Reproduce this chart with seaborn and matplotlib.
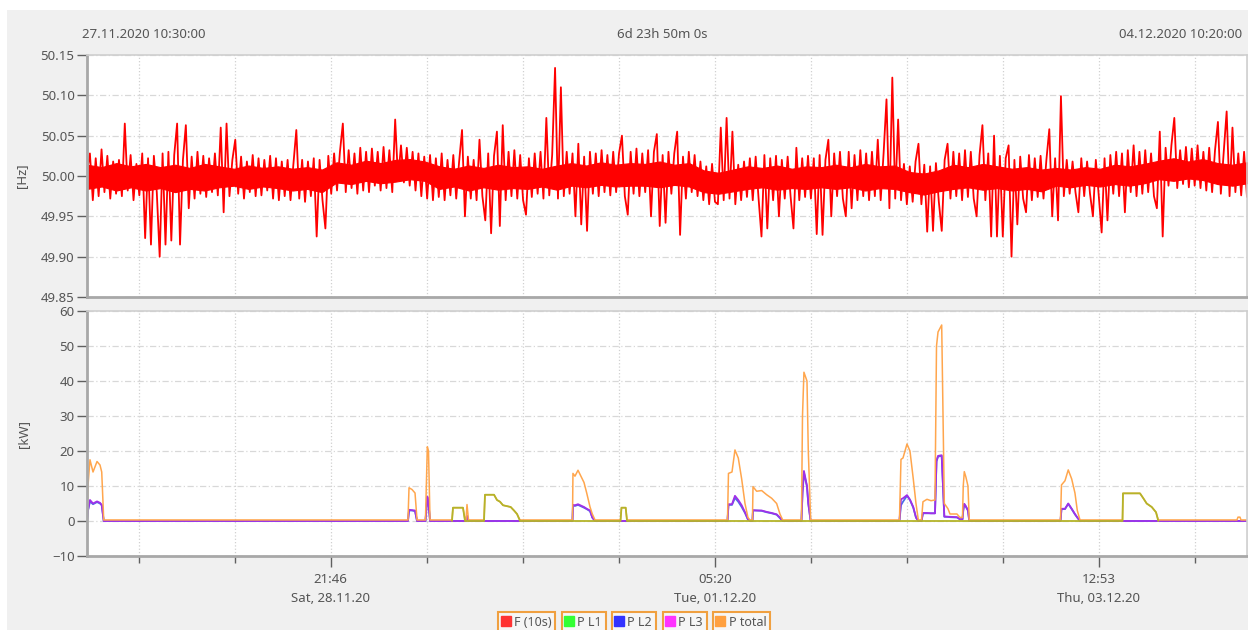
import numpy as np
import pandas as pd
import seaborn as sns
import matplotlib.pyplot as plt
import matplotlib.dates as mdates
from matplotlib.lines import Line2D
from matplotlib.patches import Rectangle
from matplotlib.ticker import FixedLocator, FixedFormatter, NullFormatter

### data
start = pd.Timestamp("2020-11-27 10:30:00")
end = pd.Timestamp("2020-12-04 10:20:00")

# frequency deviation from 50 Hz in mHz left to right
freq_dev = [
    5, 28, -30, 22, -25, 33, -20, 25, -28, 18,
    -22, 20, -25, 65, -18, 26, -30, 15, -24, 28,
    -77, 22, -85, 25, -20, -100, 28, -85, 30, -80,
    26, 65, -85, 20, 63, -40, 24, -28, 30, -22,
    25, -26, 22, -20, 28, -24, 60, -45, 65, -25,
    20, 45, -22, 24, -28, 18, -20, 26, -25, 22,
    -24, 20, -18, 25, -28, 22, -30, 18, -25, 20,
    -30, 15, 57, -28, 20, -32, 18, -25, 22, -75,
    20, -30, -65, 25, -22, 28, -18, 30, 65, -20,
    32, -15, 28, -22, 35, -18, 30, -20, 34, -12,
    30, -18, 36, -15, 32, -20, 70, -5, 38, -8,
    35, -12, 30, -18, 28, -25, 24, -28, 26, -30,
    22, -26, 28, -30, 20, -24, 26, -28, 18, 57,
    -50, 24, -28, 20, -30, 45, -25, -55, 28, -71,
    25, 55, -62, 63, -30, 30, -25, 32, -28, 26,
    -30, -48, 22, -26, 28, -22, 30, -28, 72, -24,
    26, 134, -28, 110, -25, 30, -22, 28, -50, 40,
    -60, 24, -68, 30, -22, 28, -25, 32, -20, 26,
    -24, 30, -20, 28, 50, -25, -48, 30, -22, 34,
    -25, 28, -20, 32, -50, 30, 52, -62, 26, -58,
    30, -22, 28, 55, -73, 24, -28, 30, -20, 26,
    -25, 18, -30, 12, -35, 15, -32, -35, 60, -30,
    72, -28, 55, -35, 14, -30, 18, -26, 22, -30,
    24, -28, -75, 26, -65, 22, -30, 25, -50, 20,
    -28, 24, -25, -65, 35, -30, 22, -26, 25, -28,
    22, -72, 26, -73, 20, 45, -50, 28, -25, 30,
    -28, -50, 30, -40, 26, -30, 32, -25, 28, -30,
    30, -25, 45, -30, 28, 95, -40, 122, -28, 70,
    -30, 15, -35, 12, -32, 18, 40, -35, 14, -69,
    12, -68, 16, -32, -68, 20, 40, -28, 30, -25,
    28, -30, 32, -26, 30, -28, -50, 26, 63, -30,
    28, -75, 50, -75, 25, -75, 22, 38, -100, 20,
    -60, 24, -28, -45, 26, -30, 22, -26, 25, -28,
    20, 58, -50, 22, -55, 99, -25, 20, -22, 18,
    -20, -45, 22, -25, 18, -22, -50, 20, -24, -70,
    22, -55, 26, -22, 30, -25, 28, -45, 32, -20,
    38, -25, 30, -22, 32, -20, 28, -25, -40, 55,
    -75, 35, -12, 38, 72, -15, 32, -10, 36, -14,
    34, -12, 38, -15, 30, -18, 35, -20, 32, 67,
    -22, 30, 80, -25, 60, -20, 28, -24, 30, -26,
]
# solid core of the noise band (mHz), upper and lower edge, read every ~15 px
core_hi = [14, 11, 16, 12, 15, 11, 14, 10, 15, 12, 9, 13, 10, 12, 9, 11, 8,
           17, 14, 19, 16, 20, 21, 18, 12, 9, 13, 10, 14, 11, 12, 9, 13,
           16, 13, 17, 14, 16, 15, 18, 14, 16, 7, 4, 8, 12, 10, 13, 9, 12, 11,
           14, 11, 15, 12, 13, 5, 3, 7, 14, 11, 15, 12, 9, 11, 8, 10, 8, 11, 9,
           14, 12, 15, 19, 22, 18, 21, 16, 14, 17]
core_lo = [-16, -13, -18, -14, -18, -15, -20, -16, -18, -14, -12, -16, -13, -15, -18, -16, -20,
           -8, -10, -6, -9, -7, -4, -6, -16, -13, -18, -14, -17, -15, -16, -13, -17,
           -12, -14, -11, -13, -12, -12, -14, -11, -13, -20, -22, -19, -16, -14, -17, -15, -16, -14,
           -16, -14, -18, -15, -16, -20, -23, -19, -16, -14, -17, -15, -18, -16, -19, -12, -14, -11, -13,
           -10, -12, -9, -4, -6, -3, -5, -10, -12, -9]

# power samples: hours after start, kW
p_hours = [
    0.00, 0.14, 0.43, 0.87, 1.45, 1.88, 2.13, 2.42,
    46.44, 46.59, 47.02, 47.46, 47.75, 48.97, 49.24, 49.41, 49.63,
    52.81, 52.95, 54.40, 54.69, 54.83, 54.98, 55.20,
    57.44, 57.58, 58.89, 59.32, 59.76, 60.19, 61.30, 61.78, 62.22, 62.65,
    70.24, 70.31, 70.60, 71.04, 71.91, 72.30, 72.78, 73.11, 73.50,
    77.19, 77.33, 77.94, 78.13,
    92.67, 92.81, 93.32, 93.75, 94.23, 94.72, 95.20, 95.63, 95.92,
    96.28, 96.36, 96.89, 97.61, 98.34, 99.06, 99.78, 100.26, 100.65,
    103.37, 103.52, 103.73, 104.17, 104.36, 104.70,
    117.55, 117.77, 118.06, 118.64, 119.07, 119.55, 119.94, 120.28,
    120.74, 120.95, 121.53, 122.11, 122.69, 122.91, 123.13, 123.66, 124.04,
    124.57, 124.86, 125.87, 126.31, 126.67, 126.78, 126.93, 127.17, 127.46, 127.65,
    140.85, 140.99, 141.50, 141.97, 142.47, 142.94, 143.28, 143.67,
    149.82, 149.89, 152.35, 152.83, 153.32, 154.05, 154.67, 155.00,
    166.38, 166.53, 166.82, 166.96, 167.83,
]
p_total = [
    0.3, 10, 17.5, 14, 17, 16, 14, 0.3,
    0.3, 9.5, 9, 8, 0.3, 0.3, 21.2, 20, 0.3,
    0.3, 3.8, 3.8, 0.3, 0.3, 4.7, 0.3,
    0.3, 7.5, 7.5, 6, 5.5, 4.5, 4, 3, 2, 0.3,
    0.3, 13.6, 12.8, 14.5, 11, 8, 4, 2, 0.3,
    0.3, 3.8, 3.8, 0.3,
    0.3, 13.6, 14, 20.3, 18, 12, 5, 1, 0.3,
    0.3, 9.8, 8.5, 8.7, 7.5, 6.5, 5, 2, 0.3,
    0.3, 30, 42.5, 40, 20, 0.3,
    0.3, 17.6, 18, 22, 20, 12, 5, 0.3,
    0.3, 5.5, 6.2, 5.8, 6, 50, 54, 56, 5,
    3.5, 2, 2, 1, 1, 10, 14.1, 12.5, 10, 0.3,
    0.3, 10.3, 11.5, 14.6, 12, 8, 3, 0.3,
    0.3, 7.9, 7.9, 6.5, 5, 4, 2.5, 0.3,
    0.3, 1.1, 1.1, 0.3, 0.3,
]
p_l1 = [
    0, 0, 0, 0, 0, 0, 0, 0,
    0, 0, 0, 0, 0, 0, 0, 0, 0,
    0, 3.8, 3.8, 0, 0, 0, 0,
    0, 7.5, 7.5, 6, 5.5, 4.5, 4, 3, 2, 0,
    0, 0, 0, 0, 0, 0, 0, 0, 0,
    0, 3.8, 3.8, 0,
    0, 0, 0, 0, 0, 0, 0, 0, 0,
    0, 0, 0, 0, 0, 0, 0, 0, 0,
    0, 0, 0, 0, 0, 0,
    0, 0, 0, 0, 0, 0, 0, 0,
    0, 0, 0, 0, 0, 0, 0, 0, 0,
    0, 0, 0, 0, 0, 0, 0, 0, 0, 0,
    0, 0, 0, 0, 0, 0, 0, 0,
    0, 7.9, 7.9, 6.5, 5, 4, 2.5, 0,
    0, 0, 0, 0, 0,
]
p_l2 = [
    0, 3, 5.6, 4.8, 5.4, 5, 4.5, 0,
    0, 3, 3, 2.8, 0, 0, 6.8, 5, 0,
    0, 0, 0, 0, 0, 1.4, 0,
    0, 0, 0, 0, 0, 0, 0, 0, 0, 0,
    0, 4.4, 4.3, 4.6, 3.8, 3.4, 2.8, 1, 0,
    0, 0, 0, 0,
    0, 4.6, 4.6, 6.6, 5.5, 4, 2.3, 0.4, 0,
    0, 3, 3, 2.9, 2.5, 2.2, 1.8, 0.8, 0,
    0, 8, 13.8, 9.8, 5, 0,
    0, 4.5, 5.5, 7.2, 6, 3.8, 1, 0,
    0, 2.2, 2.2, 2.2, 2.2, 17, 18.4, 18.6, 1.2,
    1.2, 1.1, 1, 0.5, 0.5, 3, 4.8, 4, 3, 0,
    0, 3.4, 3.4, 4.9, 3.4, 1.9, 1, 0,
    0, 0, 0, 0, 0, 0, 0, 0,
    0, 0, 0, 0, 0,
]
p_l3 = [
    0, 3, 6, 5, 5.6, 5.2, 4.6, 0,
    0, 3.2, 3.1, 3, 0, 0, 7, 5.2, 0,
    0, 0, 0, 0, 0, 1.5, 0,
    0, 0, 0, 0, 0, 0, 0, 0, 0, 0,
    0, 4.6, 4.5, 4.8, 4, 3.5, 3, 1, 0,
    0, 0, 0, 0,
    0, 4.8, 4.8, 7.2, 6, 4.5, 2.5, 0.5, 0,
    0, 3.1, 3, 3, 2.6, 2.3, 1.9, 1, 0,
    0, 8, 14.3, 10, 5, 0,
    0, 6.2, 6.5, 7.4, 6.1, 4, 1, 0,
    0, 2.3, 2.3, 2.2, 2.2, 17.2, 18.6, 18.8, 1.3,
    1.2, 1.2, 1.1, 0.5, 0.5, 3.2, 4.9, 4.2, 3, 0,
    0, 3.5, 3.5, 5, 3.5, 2, 1, 0,
    0, 0, 0, 0, 0, 0, 0, 0,
    0, 0, 0, 0, 0,
]

# x ticks every 13h53m30s, labels on every 4th
tick_first = pd.Timestamp("2020-11-27 17:59:00")
tick_step_min = 833.5
n_ticks = 12
major_idx = [2, 6, 10]
major_labels = ["21:46\nSat, 28.11.20", "05:20\nTue, 01.12.20", "12:53\nThu, 03.12.20"]

legend_labels = ["F (10s)", "P L1", "P L2", "P L3", "P total"]
legend_colors = ["#ff3333", "#33ff33", "#3333ff", "#ff33ff", "#ffa040"]

### plot
sns.set_style("white")
plt.rcParams["font.family"] = ["Noto Sans", "DejaVu Sans"]
plt.rcParams["text.color"] = "#555555"

fig = plt.figure(figsize=(12.48, 6.3), dpi=100)
fig.patch.set_facecolor("white")
fig.add_artist(Rectangle((7 / 1248, 0), 1, 1 - 10 / 630, transform=fig.transFigure,
                         facecolor="#f0f0f0", edgecolor="none", zorder=-10))

ax1 = fig.add_axes([87 / 1248, 1 - 297 / 630, 1160 / 1248, 242 / 630])
ax2 = fig.add_axes([87 / 1248, 1 - 556 / 630, 1160 / 1248, 245 / 630])

f_time = pd.date_range(start, end, periods=len(freq_dev))
f_val = 50 + np.array(freq_dev) / 1000.0
core_time = pd.date_range(start, end, periods=len(core_hi))
ax1.fill_between(core_time, 50 + np.array(core_lo) / 1000.0, 50 + np.array(core_hi) / 1000.0,
                 color="#ff0000", linewidth=0.8)
sns.lineplot(x=f_time, y=f_val, ax=ax1, color="#ff0000", linewidth=1.3)

p_time = start + pd.to_timedelta(p_hours, unit="h")
sns.lineplot(x=p_time, y=p_l2, ax=ax2, color="#4a70e8", linewidth=1.3)
sns.lineplot(x=p_time, y=p_l3, ax=ax2, color="#a030e8", linewidth=1.3)
sns.lineplot(x=p_time, y=p_total, ax=ax2, color="#ffa64d", linewidth=1.1)
mask = np.array(p_l1) > 0
l1_plot = np.where(mask | np.roll(mask, 1) | np.roll(mask, -1), p_l1, np.nan)
sns.lineplot(x=p_time, y=l1_plot, ax=ax2, color="#b4b42a", linewidth=1.3)

ticks = [mdates.date2num(tick_first + pd.Timedelta(minutes=tick_step_min * k)) for k in range(n_ticks)]
major_pos = [ticks[i] for i in major_idx]
minor_pos = [t for i, t in enumerate(ticks) if i not in major_idx]

for ax in (ax1, ax2):
    ax.set_facecolor("white")
    ax.set_xlim(mdates.date2num(start), mdates.date2num(end))
    ax.xaxis.set_major_locator(FixedLocator(major_pos))
    ax.xaxis.set_minor_locator(FixedLocator(minor_pos))
    ax.grid(True, axis="x", which="both", color="#d0d0d0", linestyle=":", linewidth=0.9)
    ax.grid(True, axis="y", color="#d8d8d8", linestyle=(0, (5, 2, 1, 2)), linewidth=0.9)
    for s in ("top", "right"):
        ax.spines[s].set_color("#cfcfcf")
        ax.spines[s].set_linewidth(1.2)
    for s in ("left", "bottom"):
        ax.spines[s].set_color("#a8a8a8")
        ax.spines[s].set_linewidth(2)
    ax.tick_params(axis="y", length=7, width=1, color="#606060", labelsize=9.5,
                   labelcolor="#555555", pad=2, left=True)
    ax.set_xlabel("")

ax1.set_ylim(49.85, 50.15)
ax1.set_yticks([49.85, 49.90, 49.95, 50.00, 50.05, 50.10, 50.15])
ax1.set_yticklabels(["49.85", "49.90", "49.95", "50.00", "50.05", "50.10", "50.15"])
ax1.xaxis.set_major_formatter(NullFormatter())
ax1.tick_params(axis="x", which="both", length=0)
ax1.set_ylabel("[Hz]", fontsize=9.5, color="#555555", labelpad=9)

ax2.set_ylim(-10, 60)
ax2.set_yticks([-10, 0, 10, 20, 30, 40, 50, 60])
ax2.xaxis.set_major_formatter(FixedFormatter(major_labels))
ax2.tick_params(axis="x", which="major", length=8, width=1, color="#606060",
                labelsize=9.5, labelcolor="#555555", pad=4, bottom=True)
ax2.tick_params(axis="x", which="minor", length=5, width=1, color="#606060", bottom=True)
for lab in ax2.get_xticklabels():
    lab.set_linespacing(1.6)
ax2.set_ylabel("[kW]", fontsize=9.5, color="#555555", labelpad=16)

fig.text(82 / 1248, 1 - 35 / 630, "27.11.2020 10:30:00", ha="left", va="center", fontsize=9.5)
fig.text(662 / 1248, 1 - 35 / 630, "6d 23h 50m 0s", ha="center", va="center", fontsize=9.5)
fig.text(1242 / 1248, 1 - 35 / 630, "04.12.2020 10:20:00", ha="right", va="center", fontsize=9.5)

centers = [526.5, 583.5, 633.5, 684.5, 741.5]
for cx, lab, col in zip(centers, legend_labels, legend_colors):
    h = Line2D([], [], marker="s", linestyle="", color=col, markersize=6.5)
    leg = fig.legend(handles=[h], labels=[lab], loc="center",
                     bbox_to_anchor=(cx / 1248, 1 - 622 / 630), frameon=True,
                     fancybox=False, edgecolor="#f0a040", facecolor="#f6f6f6",
                     framealpha=1, fontsize=9, handlelength=0.6, handletextpad=0.35,
                     borderpad=0.3, borderaxespad=0)
    leg.get_frame().set_linewidth(1.5)

plt.savefig("out.png", dpi=100)
